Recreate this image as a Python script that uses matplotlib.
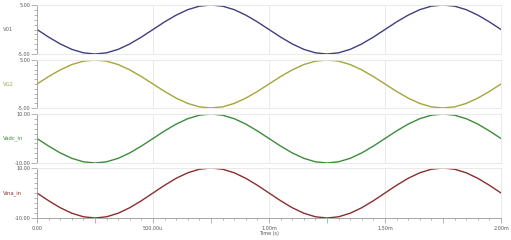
import matplotlib
matplotlib.use("Agg")
import matplotlib.pyplot as plt
from matplotlib.ticker import MultipleLocator, FixedLocator

W, H = 511, 240

# time axis, 50u steps over 0..2m
time_ms = [i * 0.05 for i in range(41)]

v01 = [0.00, -1.55, -2.94, -4.05, -4.76, -5.00, -4.76, -4.05, -2.94, -1.55,
       0.00, 1.55, 2.94, 4.05, 4.76, 5.00, 4.76, 4.05, 2.94, 1.55,
       0.00, -1.55, -2.94, -4.05, -4.76, -5.00, -4.76, -4.05, -2.94, -1.55,
       0.00, 1.55, 2.94, 4.05, 4.76, 5.00, 4.76, 4.05, 2.94, 1.55, 0.00]
vg2 = [0.00, 1.55, 2.94, 4.05, 4.76, 5.00, 4.76, 4.05, 2.94, 1.55,
       0.00, -1.55, -2.94, -4.05, -4.76, -5.00, -4.76, -4.05, -2.94, -1.55,
       0.00, 1.55, 2.94, 4.05, 4.76, 5.00, 4.76, 4.05, 2.94, 1.55,
       0.00, -1.55, -2.94, -4.05, -4.76, -5.00, -4.76, -4.05, -2.94, -1.55, 0.00]
vadc_in = [0.00, -3.09, -5.88, -8.09, -9.51, -10.00, -9.51, -8.09, -5.88, -3.09,
           0.00, 3.09, 5.88, 8.09, 9.51, 10.00, 9.51, 8.09, 5.88, 3.09,
           0.00, -3.09, -5.88, -8.09, -9.51, -10.00, -9.51, -8.09, -5.88, -3.09,
           0.00, 3.09, 5.88, 8.09, 9.51, 10.00, 9.51, 8.09, 5.88, 3.09, 0.00]
vina_in = [0.00, -3.09, -5.88, -8.09, -9.51, -10.00, -9.51, -8.09, -5.88, -3.09,
           0.00, 3.09, 5.88, 8.09, 9.51, 10.00, 9.51, 8.09, 5.88, 3.09,
           0.00, -3.09, -5.88, -8.09, -9.51, -10.00, -9.51, -8.09, -5.88, -3.09,
           0.00, 3.09, 5.88, 8.09, 9.51, 10.00, 9.51, 8.09, 5.88, 3.09, 0.00]

names = ["V01", "VG2", "Vadc_in", "Vina_in"]
series = [v01, vg2, vadc_in, vina_in]
limits = [5.0, 5.0, 10.0, 10.0]
colors = ["#3f3f80", "#a5a53c", "#3c8c3c", "#8c2e2e"]
label_colors = ["#666666", "#a5a53c", "#3c8c3c", "#8c2e2e"]

x_ticks = [0.0, 0.5, 1.0, 1.5, 2.0]
x_tick_labels = ["0.00", "500.00u", "1.00m", "1.50m", "2.00m"]

# panel top/bottom in pixels from top of image
panels_px = [(5, 54), (60, 108), (114, 163), (168, 218)]
left_px, right_px = 37, 501

fig = plt.figure(figsize=(W / 100, H / 100), dpi=100)
fig.patch.set_facecolor("white")

for i, (name, y, lim, col) in enumerate(zip(names, series, limits, colors)):
    top, bot = panels_px[i]
    ax = fig.add_axes([left_px / W, 1 - bot / H, (right_px - left_px) / W, (bot - top) / H])
    for xt in x_ticks[1:-1]:
        ax.axvline(xt, color="#e6e6e6", lw=0.6, zorder=0)
    ax.plot(time_ms, y, color=col, lw=1.0)
    ax.set_xlim(0, 2.0)
    ax.set_ylim(-lim, lim)

    for s in ["top", "right", "bottom"]:
        ax.spines[s].set_color("#e6e6e6")
        ax.spines[s].set_linewidth(0.6)
    ax.spines["left"].set_color("#999999")
    ax.spines["left"].set_linewidth(0.6)

    ax.yaxis.set_major_locator(FixedLocator([-lim, lim]))
    ax.yaxis.set_minor_locator(MultipleLocator(lim / 5))
    ax.set_yticklabels(["%.2f" % -lim, "%.2f" % lim])
    ax.tick_params(axis="y", which="major", length=4, width=0.5, color="#999999",
                   labelsize=3.5, labelcolor="#555555", pad=1)
    ax.tick_params(axis="y", which="minor", length=2, width=0.5, color="#999999")

    if i == 3:
        ax.spines["bottom"].set_color("#999999")
        # major ticks every 250u, labels only on the 500u ones
        ax.xaxis.set_major_locator(FixedLocator([k * 0.25 for k in range(9)]))
        ax.xaxis.set_minor_locator(MultipleLocator(0.05))
        ax.set_xticklabels([x_tick_labels[k // 2] if k % 2 == 0 else "" for k in range(9)])
        ax.tick_params(axis="x", which="major", length=3.5, width=0.5, color="#999999",
                       labelsize=3.5, labelcolor="#555555", pad=2)
        ax.tick_params(axis="x", which="minor", length=1.5, width=0.5, color="#999999")
        ax.set_xlabel("Time (s)", fontsize=3.5, color="#555555", labelpad=0.5)
    else:
        ax.set_xticks([])

    fig.text(3 / W, 1 - (top + bot) / 2 / H, name, fontsize=3.8, color=label_colors[i],
             ha="left", va="center")

fig.savefig("out.png", dpi=100, facecolor="white")
